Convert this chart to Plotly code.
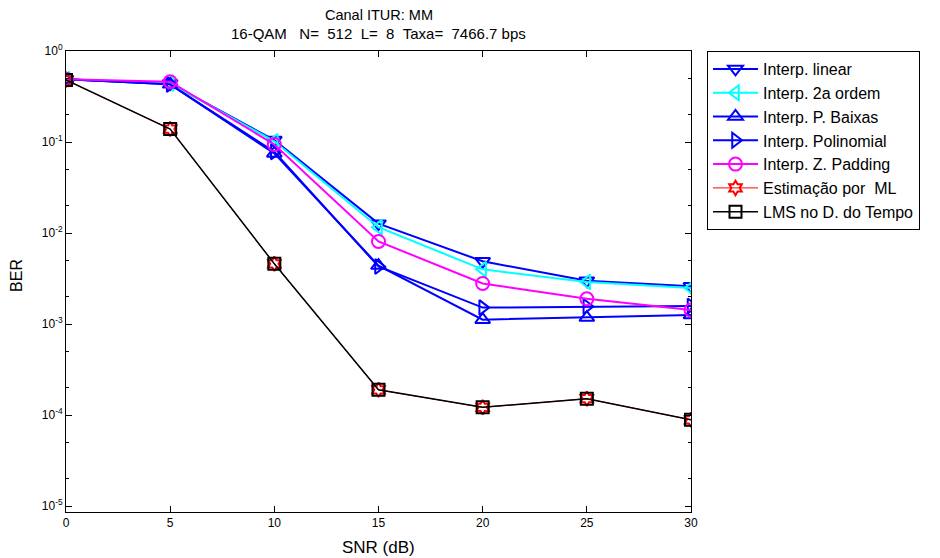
import plotly.graph_objects as go

snr = [0, 5, 10, 15, 20, 25, 30]

ber_linear = [0.49, 0.44, 0.105, 0.0127, 0.0049, 0.0030, 0.0026]
ber_2a_ordem = [0.49, 0.44, 0.102, 0.0116, 0.0040, 0.0029, 0.0025]
ber_p_baixas = [0.49, 0.43, 0.075, 0.0044, 0.00112, 0.00118, 0.00126]
ber_polinomial = [0.49, 0.43, 0.078, 0.0043, 0.00152, 0.00156, 0.00158]
ber_z_padding = [0.49, 0.46, 0.094, 0.0081, 0.0028, 0.0019, 0.00143]
ber_ml = [0.48, 0.139, 0.0046, 1.9e-4, 1.22e-4, 1.52e-4, 8.9e-5]
ber_lms = [0.48, 0.139, 0.0046, 1.9e-4, 1.22e-4, 1.52e-4, 8.9e-5]

series_names = [
    "Interp. linear",
    "Interp. 2a ordem",
    "Interp. P. Baixas",
    "Interp. Polinomial",
    "Interp. Z. Padding",
    "Estimação por  ML",
    "LMS no D. do Tempo",
]

y_tickvals = [1, 1e-1, 1e-2, 1e-3, 1e-4, 1e-5]
y_ticktext = ["10<sup>0</sup>", "10<sup>-1</sup>", "10<sup>-2</sup>",
              "10<sup>-3</sup>", "10<sup>-4</sup>", "10<sup>-5</sup>"]

# (values, colour, marker symbol, marker size, line width)
styles = [
    (ber_linear, "#0000ff", "triangle-down-open", 13, 2),
    (ber_2a_ordem, "#00ffff", "triangle-left-open", 13, 2),
    (ber_p_baixas, "#0000ff", "triangle-up-open", 13, 2),
    (ber_polinomial, "#0000ff", "triangle-right-open", 13, 2),
    (ber_z_padding, "#ff00ff", "circle-open", 13, 2),
    (ber_ml, "#ff0000", "hexagram-open", 11, 1),
    (ber_lms, "#000000", "square-open", 12, 1.5),
]

fig = go.Figure()
for name, (vals, color, symbol, msize, lw) in zip(series_names, styles):
    fig.add_trace(go.Scatter(
        x=snr, y=vals, name=name, mode="lines+markers",
        line=dict(color=color, width=lw),
        marker=dict(symbol=symbol, size=msize, color=color,
                    line=dict(color=color, width=2)),
    ))

font_family = "Liberation Sans, Arial, sans-serif"
sp = "\u00a0"

fig.update_layout(
    width=940, height=558,
    margin=dict(l=66, r=249, t=51, b=46),
    paper_bgcolor="white", plot_bgcolor="white",
    font=dict(family=font_family, size=12, color="black"),
    showlegend=True,
    legend=dict(
        x=1.0256, y=1.0, xanchor="left", yanchor="top",
        bordercolor="black", borderwidth=1, bgcolor="white",
        font=dict(family=font_family, size=16, color="black"),
        itemwidth=45, tracegroupgap=0,
        entrywidth=175, entrywidthmode="pixels",
    ),
    annotations=[
        dict(text="Canal ITUR: MM", xref="paper", yref="paper",
             x=0.5, y=1.0, yanchor="middle", yshift=36, showarrow=False,
             font=dict(size=14.5)),
        dict(text=f"16-QAM{sp*3}N={sp*2}512{sp*2}L={sp*2}8{sp*2}Taxa={sp*2}7466.7 bps",
             xref="paper", yref="paper",
             x=0.5, y=1.0, yanchor="middle", yshift=18, showarrow=False,
             font=dict(size=15)),
        # axis titles
        dict(text="SNR (dB)", xref="paper", yref="paper",
             x=0.5, y=0.0, yanchor="middle", yshift=-35, showarrow=False,
             font=dict(size=17)),
        dict(text="BER", xref="paper", yref="paper", textangle=-90,
             x=0.0, y=0.512, xanchor="center", yanchor="middle",
             xshift=-49, showarrow=False, font=dict(size=16)),
    ],
)

fig.update_xaxes(
    range=[0, 30], tickvals=[0, 5, 10, 15, 20, 25, 30],
    ticks="inside", ticklen=6, tickcolor="black",
    showline=True, linecolor="black", linewidth=1, mirror="ticks",
    showgrid=False, zeroline=False, automargin=False,
    tickfont=dict(size=12),
)

fig.update_yaxes(
    type="log", range=[-5.063, 0],
    tickvals=y_tickvals, ticktext=y_ticktext,
    ticks="inside", ticklen=6, tickcolor="black",
    minor=dict(ticks="inside", ticklen=3, tickcolor="black", showgrid=False),
    showline=True, linecolor="black", linewidth=1, mirror="ticks",
    showgrid=False, zeroline=False, automargin=False,
    tickfont=dict(size=12),
)

fig.write_html("out.html")
